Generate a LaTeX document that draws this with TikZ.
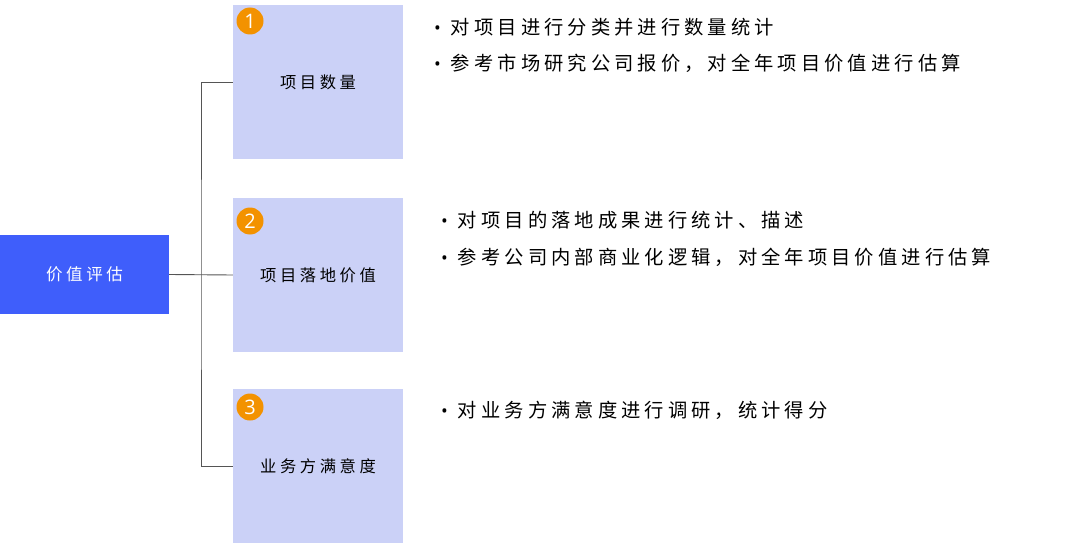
\documentclass[tikz,border=0pt]{standalone}
\usepackage{fontspec}
\newfontfamily\cjk[LetterSpace=21]{Noto Sans CJK SC}
\newfontfamily\cjklab[LetterSpace=22]{Noto Sans CJK SC}
\newfontfamily\numf{Open Sans}
\definecolor{mainblue}{HTML}{3F5EFB}
\definecolor{lightbox}{HTML}{CBD1F7}
\definecolor{badge}{HTML}{F39200}
\definecolor{linec}{HTML}{555555}
\newcommand{\bul}{{\numf\fontsize{18}{20}\selectfont •}\hspace{10pt}}
\tikzset{
  catbox/.style={fill=lightbox, draw=none, minimum width=170pt, minimum height=154pt, inner sep=0pt, font=\cjklab\fontsize{16.3}{20}\selectfont, text=black},
  badgec/.style={circle, fill=badge, minimum size=27pt, inner sep=0pt, text=white, font=\numf\fontsize{20}{20}\selectfont},
  bullettext/.style={anchor=west, inner sep=0pt, font=\cjk\fontsize{19.3}{22}\selectfont, text=black},
  conn/.style={draw=linec, line width=0.9pt}
}
\begin{document}
\begin{tikzpicture}[x=1pt,y=-1pt]
\useasboundingbox (0,0) rectangle (1080,543);
\node[fill=mainblue, minimum width=169pt, minimum height=79pt, inner sep=0pt, text=white, font=\cjklab\fontsize{16.5}{20}\selectfont] (root) at (84.5,274.5) {价值评估};
\node[catbox] (b1) at (318,82) {项目数量};
\node[catbox] (b2) at (318,275) {项目落地价值};
\node[catbox] (b3) at (318,466) {业务方满意度};
\node[badgec] (n1) at (250,21) {1};
\node[badgec] (n2) at (250,221) {2};
\node[badgec] (n3) at (250,407) {3};
\coordinate (jx) at (201,275);
\draw[conn] (root.east) -- (b2.west);
\draw[conn] (b1.west) -| (jx) |- (b3.west);
\node[bullettext] (t1) at (434,27) {\bul 对项目进行分类并进行数量统计};
\node[bullettext] (t2) at (434,63) {\bul 参考市场研究公司报价，对全年项目价值进行估算};
\node[bullettext] (t3) at (441,220) {\bul 对项目的落地成果进行统计、描述};
\node[bullettext] (t4) at (441,257) {\bul 参考公司内部商业化逻辑，对全年项目价值进行估算};
\node[bullettext] (t5) at (441,410) {\bul 对业务方满意度进行调研，统计得分};
\end{tikzpicture}
\end{document}
